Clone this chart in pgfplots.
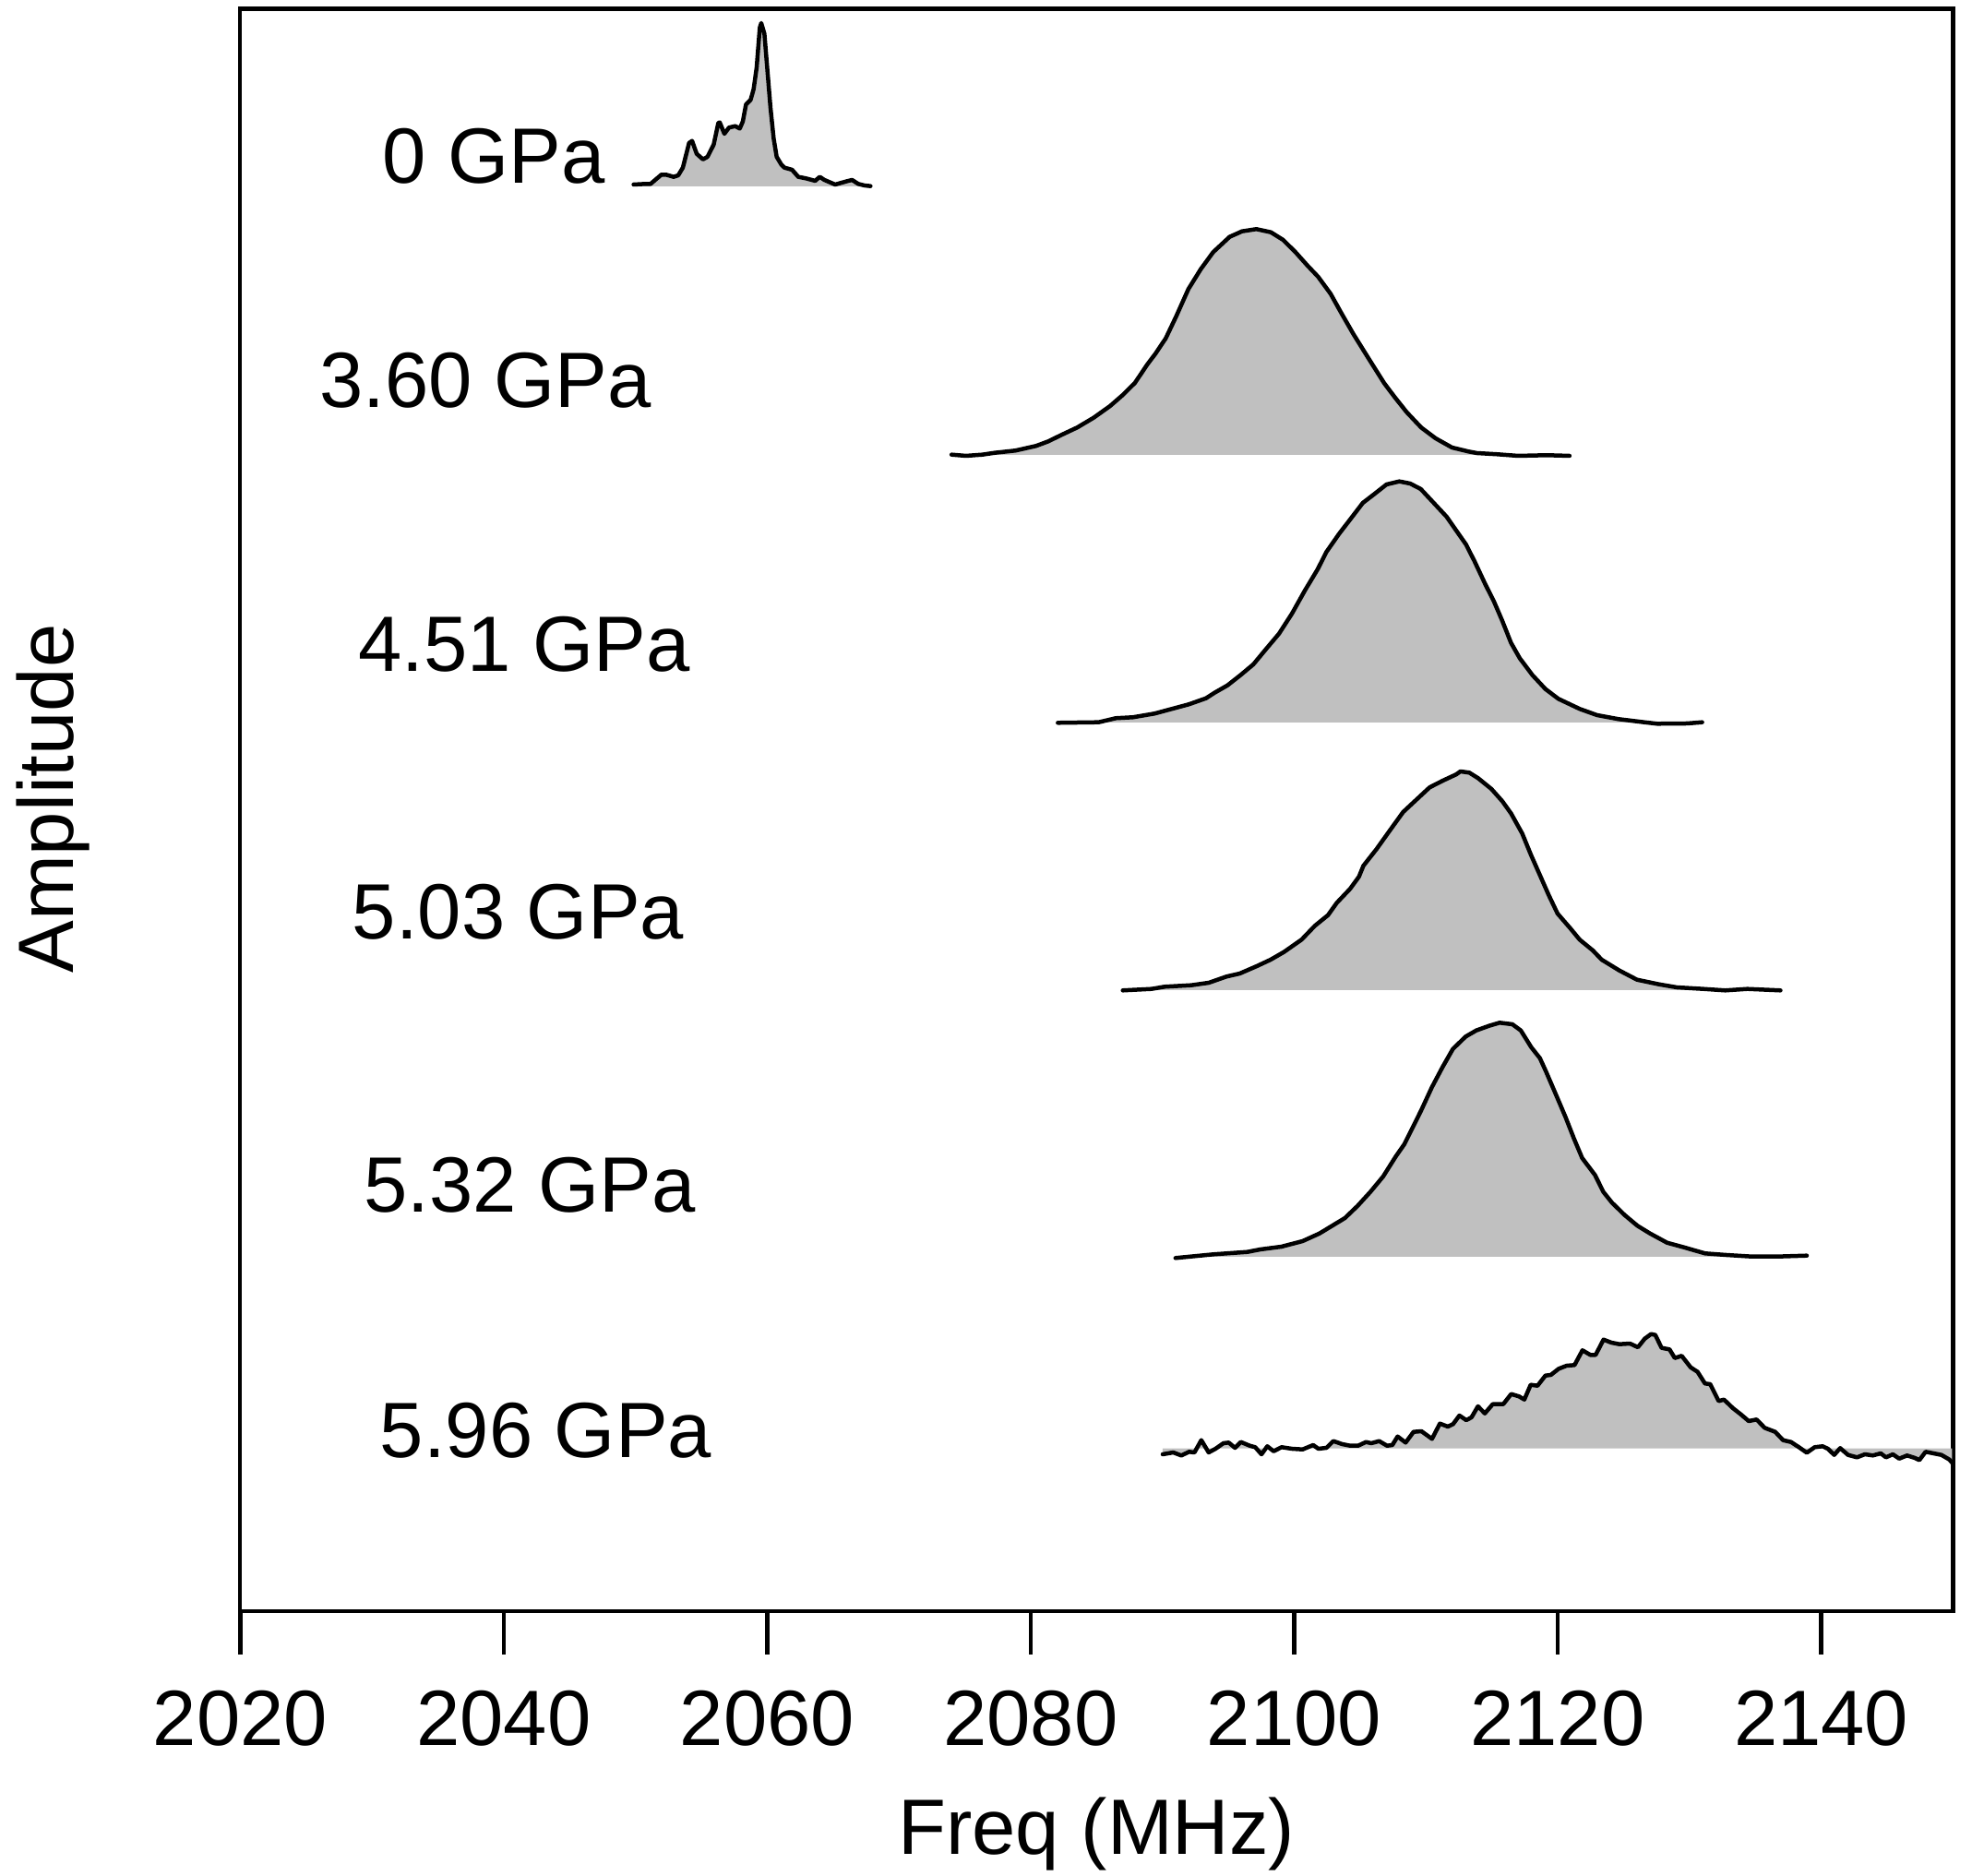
\documentclass[border=0pt]{standalone}
\usepackage{pgfplots}
\pgfplotsset{compat=1.18}
\usepackage{pgfplotstable}
\usepackage{fontspec}
\setmainfont{Liberation Sans}
\definecolor{fillgray}{HTML}{C0C0C0}

\pgfplotstableread{
x y
2049.86 1546
2050.80 1546.7
2051.15 1546.7
2051.97 1556.7
2052.32 1556.7
2052.90 1554.3
2053.25 1556
2053.60 1564.3
2054.07 1591
2054.30 1593.3
2054.65 1579.3
2055.12 1573.3
2055.47 1576
2055.94 1589.3
2056.29 1612.7
2056.40 1613.3
2056.75 1601
2057.10 1607.7
2057.57 1609.3
2057.92 1606.7
2058.15 1614.3
2058.39 1632.7
2058.74 1637.7
2058.97 1649.3
2059.20 1672.7
2059.44 1716
2059.55 1721
2059.79 1709.3
2060.02 1669.3
2060.25 1629.3
2060.49 1596
2060.72 1576
2061.07 1567.7
2061.31 1564.3
2061.89 1562
2062.36 1554.3
2062.94 1552.7
2063.64 1550
2063.99 1554.3
2064.34 1551
2065.16 1546
2065.98 1549.3
2066.44 1551
2066.91 1546.7
2067.38 1545
2067.84 1544.3
}\tabA

\pgfplotstableread{
x y
2073.99 1253.3
2075.09 1252
2076.34 1253.3
2077.28 1255.3
2078.84 1257.7
2080.40 1262.7
2081.34 1267.7
2082.28 1274.3
2083.53 1282.7
2084.78 1293.3
2086.03 1306
2086.97 1317.7
2087.91 1331
2088.85 1351
2089.47 1362.7
2090.25 1379.3
2091.03 1402.7
2091.97 1432.7
2092.91 1454.3
2093.85 1472.7
2095.10 1489.3
2096.04 1495.3
2097.13 1497.7
2098.23 1494.3
2099.16 1486
2100.10 1472.7
2101.04 1457.7
2101.82 1446
2102.76 1427.7
2103.54 1407.7
2104.48 1384.3
2105.57 1359.3
2106.82 1331
2107.61 1316
2108.54 1299.3
2109.64 1282.7
2110.73 1271
2111.98 1261
2113.23 1256.7
2113.86 1255
2115.42 1253.7
2116.99 1252
2119.18 1252.7
2120.90 1252
}\tabB

\pgfplotstableread{
x y
2082.06 962.7
2085.16 963.3
2086.46 967.7
2087.76 968.7
2089.40 972.7
2090.70 977.7
2092.00 982.7
2093.31 989.3
2093.96 995.3
2094.94 1003.3
2095.92 1014.3
2096.90 1026
2097.87 1042.7
2098.85 1059.3
2099.83 1081
2100.81 1106
2101.79 1129.3
2102.44 1147.7
2103.42 1167.7
2104.23 1182.7
2105.21 1201
2106.03 1210
2107.01 1221
2107.98 1224.3
2108.80 1222
2109.61 1216
2110.59 1201
2111.57 1186
2112.22 1172.7
2113.04 1156
2113.69 1137.7
2114.51 1112.7
2115.16 1094.3
2115.81 1072.7
2116.46 1049.3
2117.12 1032.7
2118.09 1014.3
2119.07 999.3
2120.05 988.7
2121.68 977.7
2122.99 971
2124.62 966.7
2126.57 963.3
2127.55 961.7
2129.83 962
2130.97 963.3
}\tabC

\pgfplotstableread{
x y
2086.99 672.7
2089.17 674.3
2090.17 676.7
2092.18 678.3
2093.52 681
2094.86 687.7
2095.87 691
2097.21 699.3
2098.21 706
2099.22 714.3
2100.56 727.7
2101.57 742.7
2102.57 754.3
2103.24 767.7
2104.24 782.7
2104.92 796
2105.25 807.7
2106.26 826
2107.26 846
2108.27 866
2109.27 879.3
2110.28 892.7
2111.28 900
2112.29 906.7
2112.62 910
2113.29 908.7
2113.96 902.7
2114.97 891
2115.80 877.7
2116.47 864.3
2117.31 842.7
2117.98 819.3
2118.65 797.7
2119.32 776
2119.99 756
2121.00 739.3
2121.67 727.7
2122.67 716
2123.34 706
2124.68 694.3
2126.02 684.3
2127.69 679.3
2129.04 676
2131.05 674.3
2132.72 672.7
2134.40 674.3
2136.91 672.7
}\tabD

\pgfplotstableread{
x y
2090.99 382.7
2093.88 386.7
2096.45 389.3
2097.42 392
2099.03 395
2100.64 401
2101.92 409.3
2102.89 417.7
2103.85 426
2104.82 439.3
2105.78 454.3
2106.75 471
2107.71 492.7
2108.36 506
2109.00 524.3
2109.64 542.7
2110.45 567.7
2111.25 589.3
2112.05 609.3
2113.02 622.7
2113.82 629.3
2114.79 634.3
2115.59 637.7
2116.56 636
2117.20 629.3
2118.00 611
2118.65 599.3
2119.13 584.3
2119.93 557.7
2120.58 536
2121.22 512.7
2121.86 491
2122.83 472.7
2123.47 454.3
2124.12 442.7
2125.08 429.3
2126.05 417.7
2127.01 409.3
2128.30 399.3
2129.58 394.3
2131.19 387.7
2132.80 386
2134.73 384.3
2136.66 384.3
2138.91 385.3
}\tabE

\pgfplotstableread{
x y
2090.02 170
2090.82 172
2091.43 168.7
2092.03 172.7
2092.43 172
2092.95 185.3
2093.51 172
2094.03 176
2094.63 182
2095.03 182.7
2095.51 177
2095.95 183.3
2096.63 179.3
2097.04 177.7
2097.52 170
2097.96 178.7
2098.44 173.3
2099.04 177.7
2099.84 176
2100.64 175.3
2101.44 180
2101.84 176
2102.45 177
2102.97 184.3
2103.65 181
2104.25 179.3
2104.85 179.3
2105.45 183.3
2105.85 182
2106.45 184.3
2107.05 179.3
2107.45 180
2107.85 189.3
2108.46 182.7
2109.06 194.3
2109.66 195
2110.46 186.7
2111.06 203.3
2111.66 200
2112.06 202.7
2112.54 212
2113.06 207
2113.46 210
2113.95 222
2114.47 214.3
2115.07 224.3
2115.87 224.3
2116.47 235.3
2117.07 232.7
2117.47 229.3
2117.95 245.3
2118.47 244.3
2119.07 255.3
2119.48 256
2120.08 262.7
2120.68 266
2121.28 266.7
2121.88 282.7
2122.48 277.7
2122.88 277.7
2123.48 294.3
2124.08 291
2124.68 289.3
2125.49 290
2126.09 286
2126.61 295.3
2127.09 300.3
2127.41 299.3
2127.89 285.3
2128.49 283.7
2128.89 274.3
2129.41 276.7
2130.09 264.3
2130.62 259.3
2131.18 246.7
2131.58 246
2132.22 227.7
2132.62 229.3
2133.30 220
2133.90 213.3
2134.50 206
2135.10 207.7
2135.71 198.7
2136.51 194.3
2137.11 185.3
2137.71 183.3
2138.31 177.7
2138.91 171.7
2139.51 177.7
2140.11 178.7
2140.51 176
2140.99 169.3
2141.44 176.7
2142.04 169.3
2142.72 166.7
2143.32 170
2143.92 168.7
2144.52 171
2144.92 166.7
2145.44 170
2145.92 165.3
2146.52 168.7
2147.12 166
2147.45 163.7
2147.93 172.7
2148.53 171
2149.13 169.3
2149.73 164.3
2149.93 161
}\tabF

\begin{document}
\begin{tikzpicture}
\begin{axis}[
  scale only axis,
  width=371.2pt, height=347.3pt,
  xmin=2020, xmax=2150, ymin=0, ymax=1736.5,
  xtick={2020,2040,2060,2080,2100,2120,2140},
  ytick=\empty,
  xtick pos=left,
  tick align=outside,
  major tick length=9.3pt,
  every tick/.style={black, line width=0.9pt},
  axis line style={line width=0.87pt},
  /pgf/number format/1000 sep={},
  /pgf/number format/assume math mode=true,
  xticklabel style={font=\fontsize{17}{20}\selectfont, inner sep=0pt, anchor=center, yshift=-14pt},
  xlabel={Freq (MHz)}, ylabel={Amplitude},
  xlabel style={font=\fontsize{17}{20}\selectfont, inner sep=0pt, at={(axis description cs:0.5,-0.1388)}, anchor=center},
  ylabel style={font=\fontsize{17}{20}\selectfont, inner sep=0pt, at={(axis description cs:-0.1094,0.507)}, anchor=center},
  curve/.style={black, line width=0.9pt, line join=round, line cap=round},
]
\addplot[draw=none, fill=fillgray] table {\tabA} -- (axis cs:2067.84,1544) -- (axis cs:2049.86,1544) -- cycle;
\addplot[curve] table {\tabA};
\addplot[draw=none, fill=fillgray] table {\tabB} -- (axis cs:2120.90,1253) -- (axis cs:2073.99,1253) -- cycle;
\addplot[curve] table {\tabB};
\addplot[draw=none, fill=fillgray] table {\tabC} -- (axis cs:2130.97,963) -- (axis cs:2082.06,963) -- cycle;
\addplot[curve] table {\tabC};
\addplot[draw=none, fill=fillgray] table {\tabD} -- (axis cs:2136.91,673) -- (axis cs:2086.99,673) -- cycle;
\addplot[curve] table {\tabD};
\addplot[draw=none, fill=fillgray] table {\tabE} -- (axis cs:2138.91,384) -- (axis cs:2090.99,384) -- cycle;
\addplot[curve] table {\tabE};
\addplot[draw=none, fill=fillgray] table {\tabF} -- (axis cs:2149.93,176.5) -- (axis cs:2090.02,176.5) -- cycle;
\addplot[curve] table {\tabF};

\begin{scope}[every node/.style={font=\fontsize{17}{20}\selectfont, inner sep=0pt, anchor=center}]
\node at (axis cs:2039.24,1577) {0 GPa};
\node at (axis cs:2038.61,1333.5) {3.60 GPa};
\node at (axis cs:2041.57,1048) {4.51 GPa};
\node at (axis cs:2041.10,758) {5.03 GPa};
\node at (axis cs:2041.96,462) {5.32 GPa};
\node at (axis cs:2043.20,196) {5.96 GPa};
\end{scope}
\end{axis}
\path (current axis.south west) ++(-52.06pt,-57.2pt);
\path (current axis.north east) ++(4.14pt,1.9pt);
\end{tikzpicture}
\end{document}
